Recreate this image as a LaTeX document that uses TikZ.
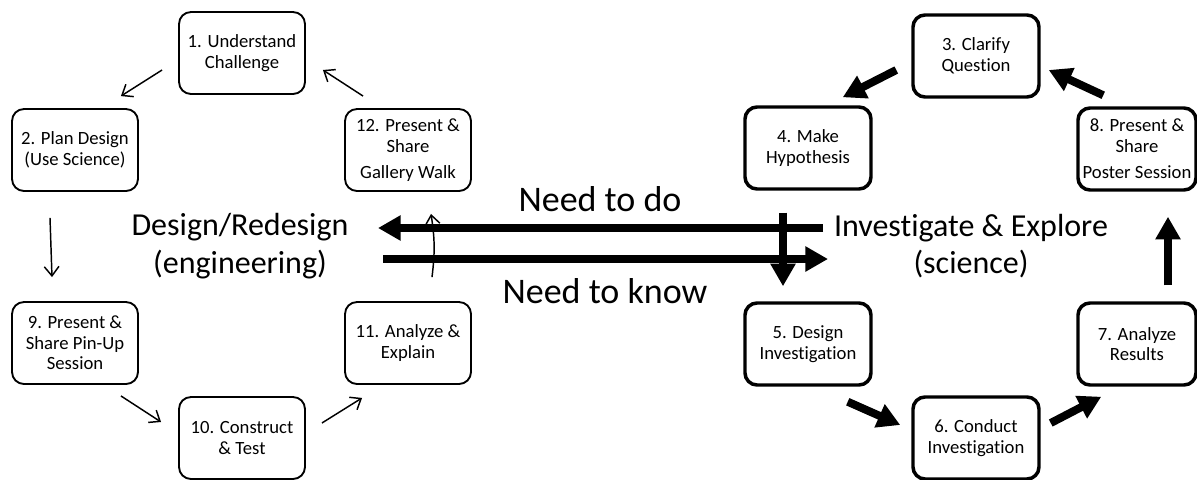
\documentclass[tikz,border=0pt]{standalone}
\usepackage{fontspec}
\setmainfont{Carlito}[Ligatures=NoCommon]
\usetikzlibrary{arrows.meta}

\begin{document}
\begin{tikzpicture}[x=0.75pt,y=-0.75pt]
\tikzstyle{every node}+=[inner sep=0pt]
\tikzstyle{engbox}=[draw,line width=1.4pt,rounded corners=9pt,minimum width=94.5pt,minimum height=61.5pt,align=center,font=\fontsize{14}{15.5}\selectfont]
\tikzstyle{scibox}=[engbox,line width=2.6pt]
\tikzstyle{thinarr}=[line width=1.1pt,-{Straight Barb[length=7pt,width=11pt]}]
\tikzstyle{thickarr}=[line width=6pt,-{Triangle[length=17pt,width=18pt]}]
\tikzstyle{biglabel}=[align=center,font=\fontsize{24}{28}\selectfont]
\tikzstyle{midlabel}=[font=\fontsize{27}{30}\selectfont]
\useasboundingbox (0,0) rectangle (1197,479);
\node[engbox] (u1) at (242,53) {1. Understand\\Challenge};
\node[engbox] (u2) at (75,150) {2. Plan Design\\(Use Science)};
\node[engbox] (u12) at (408,150) {12. Present \&\\Share\\[4pt]Gallery Walk};
\node[engbox] (u9) at (75,343) {9. Present \&\\Share Pin-Up\\Session};
\node[engbox] (u10) at (242,438) {10. Construct\\\& Test};
\node[engbox] (u11) at (408,343) {11. Analyze \&\\Explain};
\node[scibox] (s3) at (976,56) {3. Clarify\\Question};
\node[scibox] (s4) at (808,148) {4. Make\\Hypothesis};
\node[scibox,minimum width=88.5pt] (s8) at (1137,149) {8. Present \&\\Share\\[4pt]Poster Session};
\node[scibox] (s5) at (808,344) {5. Design\\Investigation};
\node[scibox] (s6) at (976,438) {6. Conduct\\Investigation};
\node[scibox,minimum width=88.5pt] (s7) at (1137,344) {7. Analyze\\Results};
\node[biglabel] (eng) at (240,246) {Design/Redesign\\(engineering)};
\node[biglabel] (sci) at (971,246) {Investigate \& Explore\\(science)};
\node[midlabel] (needdo) at (600,199) {Need to do};
\node[midlabel] (needknow) at (605,291) {Need to know};
\coordinate (dofrom) at (823,228);
\coordinate (doto) at (378,228);
\coordinate (knowfrom) at (383,259);
\coordinate (knowto) at (828,259);
\draw[thinarr] ([shift={(-16,17)}]u1.west) -- ([shift={(-18,-12)}]u2.north east);
\draw[thinarr] ([shift={(19,-12)}]u12.north west) -- ([shift={(17,17)}]u1.east);
\draw[thinarr] ([shift={(-25,26)}]u2.south) -- ([shift={(-23,-24)}]u9.north);
\draw[thinarr] ([shift={(-18,11)}]u9.south east) -- ([shift={(-17,-16)}]u10.west);
\draw[thinarr] ([shift={(16,-15)}]u10.east) -- ([shift={(18,13)}]u11.south west);
\draw[thinarr] ([shift={(24,-24)}]u11.north) to[bend right=8] ([shift={(23,22)}]u12.south);
\draw[thickarr] (dofrom) -- (doto);
\draw[thickarr] (knowfrom) -- (knowto);
\draw[thickarr] ([shift={(-25,22)}]s4.south) -- ([shift={(-25,-15)}]s5.north);
\draw[thickarr] ([shift={(-15,14)}]s3.west) -- ([shift={(-30,-8)}]s4.north east);
\draw[thickarr] ([shift={(27,-11)}]s8.north west) -- ([shift={(8,14)}]s3.east);
\draw[thickarr] ([shift={(-25,15)}]s5.south east) -- ([shift={(-11,-13)}]s6.west);
\draw[thickarr] ([shift={(10,-15)}]s6.east) -- ([shift={(25,10)}]s7.south west);
\draw[thickarr] ([shift={(31,-16)}]s7.north) -- ([shift={(31,25)}]s8.south);
\end{tikzpicture}
\end{document}
